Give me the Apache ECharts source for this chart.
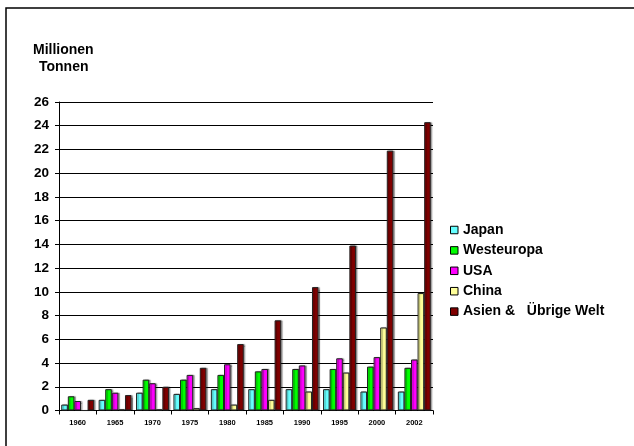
<!DOCTYPE html>
<html>
<head>
<meta charset="utf-8">
<script src="https://cdn.jsdelivr.net/npm/echarts@6/dist/echarts.min.js"></script>
<style>
  html, body { margin: 0; padding: 0; background: #fff; }
  #chart { width: 634px; height: 446px; }
</style>
</head>
<body>
<div id="chart"></div>
<script>
// Years on the category axis
const years = ['1960', '1965', '1970', '1975', '1980', '1985', '1990', '1995', '2000', '2002'];

// Production in million tonnes per region
const japan      = [0.5, 0.9, 1.5, 1.4, 1.8, 1.8, 1.8, 1.8, 1.6, 1.6];
const westeuropa = [1.2, 1.8, 2.6, 2.6, 3.0, 3.3, 3.5, 3.5, 3.7, 3.6];
const usa        = [0.8, 1.5, 2.3, 3.0, 3.9, 3.5, 3.8, 4.4, 4.5, 4.3];
const china      = [0.0, 0.1, 0.1, 0.2, 0.5, 0.9, 1.6, 3.2, 7.0, 9.9];
const asien      = [0.9, 1.3, 2.0, 3.6, 5.6, 7.6, 10.4, 13.9, 21.9, 24.3];

const seriesNames = ['Japan', 'Westeuropa', 'USA', 'China', 'Asien &   Übrige Welt'];
const seriesData = [japan, westeuropa, usa, china, asien];
const seriesColors = ['#66FFFF', '#00FF00', '#FF00FF', '#FFFF99', '#800000'];

const font = 'Arial, "Liberation Sans", sans-serif';

const chart = echarts.init(document.getElementById('chart'), null, { renderer: 'canvas' });

chart.setOption({
  backgroundColor: '#fff',
  animation: false,
  graphic: [
    {
      type: 'rect',
      shape: { x: 6, y: 8, width: 700, height: 500 },
      style: { fill: 'none', stroke: '#000', lineWidth: 1.5 },
      silent: true
    },
    {
      type: 'text',
      left: 33, top: 43,
      style: {
        text: 'Millionen',
        fontFamily: font, fontWeight: 'bold', fontSize: 14, fill: '#000'
      }
    },
    {
      type: 'text',
      left: 39, top: 60,
      style: {
        text: 'Tonnen',
        fontFamily: font, fontWeight: 'bold', fontSize: 14, fill: '#000'
      }
    }
  ],
  legend: {
    orient: 'vertical',
    left: 450,
    top: 223,
    padding: 0,
    itemWidth: 7.5,
    itemHeight: 7.5,
    itemGap: 6.4,
    icon: 'rect',
    textStyle: { fontFamily: font, fontWeight: 'bold', fontSize: 14, lineHeight: 14, color: '#000' },
    itemStyle: { borderColor: '#000', borderWidth: 1 },
    data: seriesNames
  },
  grid: { left: 59, right: 201, top: 102, bottom: 35.5, containLabel: false },
  xAxis: {
    type: 'category',
    data: years,
    axisLine: { lineStyle: { color: '#000', width: 1 } },
    axisTick: { show: true, inside: false, length: 4, lineStyle: { color: '#000' } },
    axisLabel: { fontFamily: font, fontWeight: 'bold', fontSize: 7.5, color: '#000', margin: 8 }
  },
  yAxis: {
    type: 'value',
    min: 0, max: 26, interval: 2,
    axisLine: { show: true, lineStyle: { color: '#000', width: 1 } },
    axisTick: { show: true, length: 4, lineStyle: { color: '#000' } },
    axisLabel: { fontFamily: font, fontWeight: 'bold', fontSize: 13.5, color: '#000', margin: 10 },
    splitLine: { show: true, lineStyle: { color: '#000', width: 1 } }
  },
  series: seriesData.map((d, i) => ({
    name: seriesNames[i],
    type: 'bar',
    data: d,
    barGap: '0%',
    barCategoryGap: '12%',
    itemStyle: {
      color: seriesColors[i],
      borderColor: '#222',
      borderWidth: 1,
      shadowColor: 'rgba(0,0,0,0.35)',
      shadowOffsetX: 1.5,
      shadowOffsetY: 0,
      shadowBlur: 1
    }
  }))
});
</script>
</body>
</html>
